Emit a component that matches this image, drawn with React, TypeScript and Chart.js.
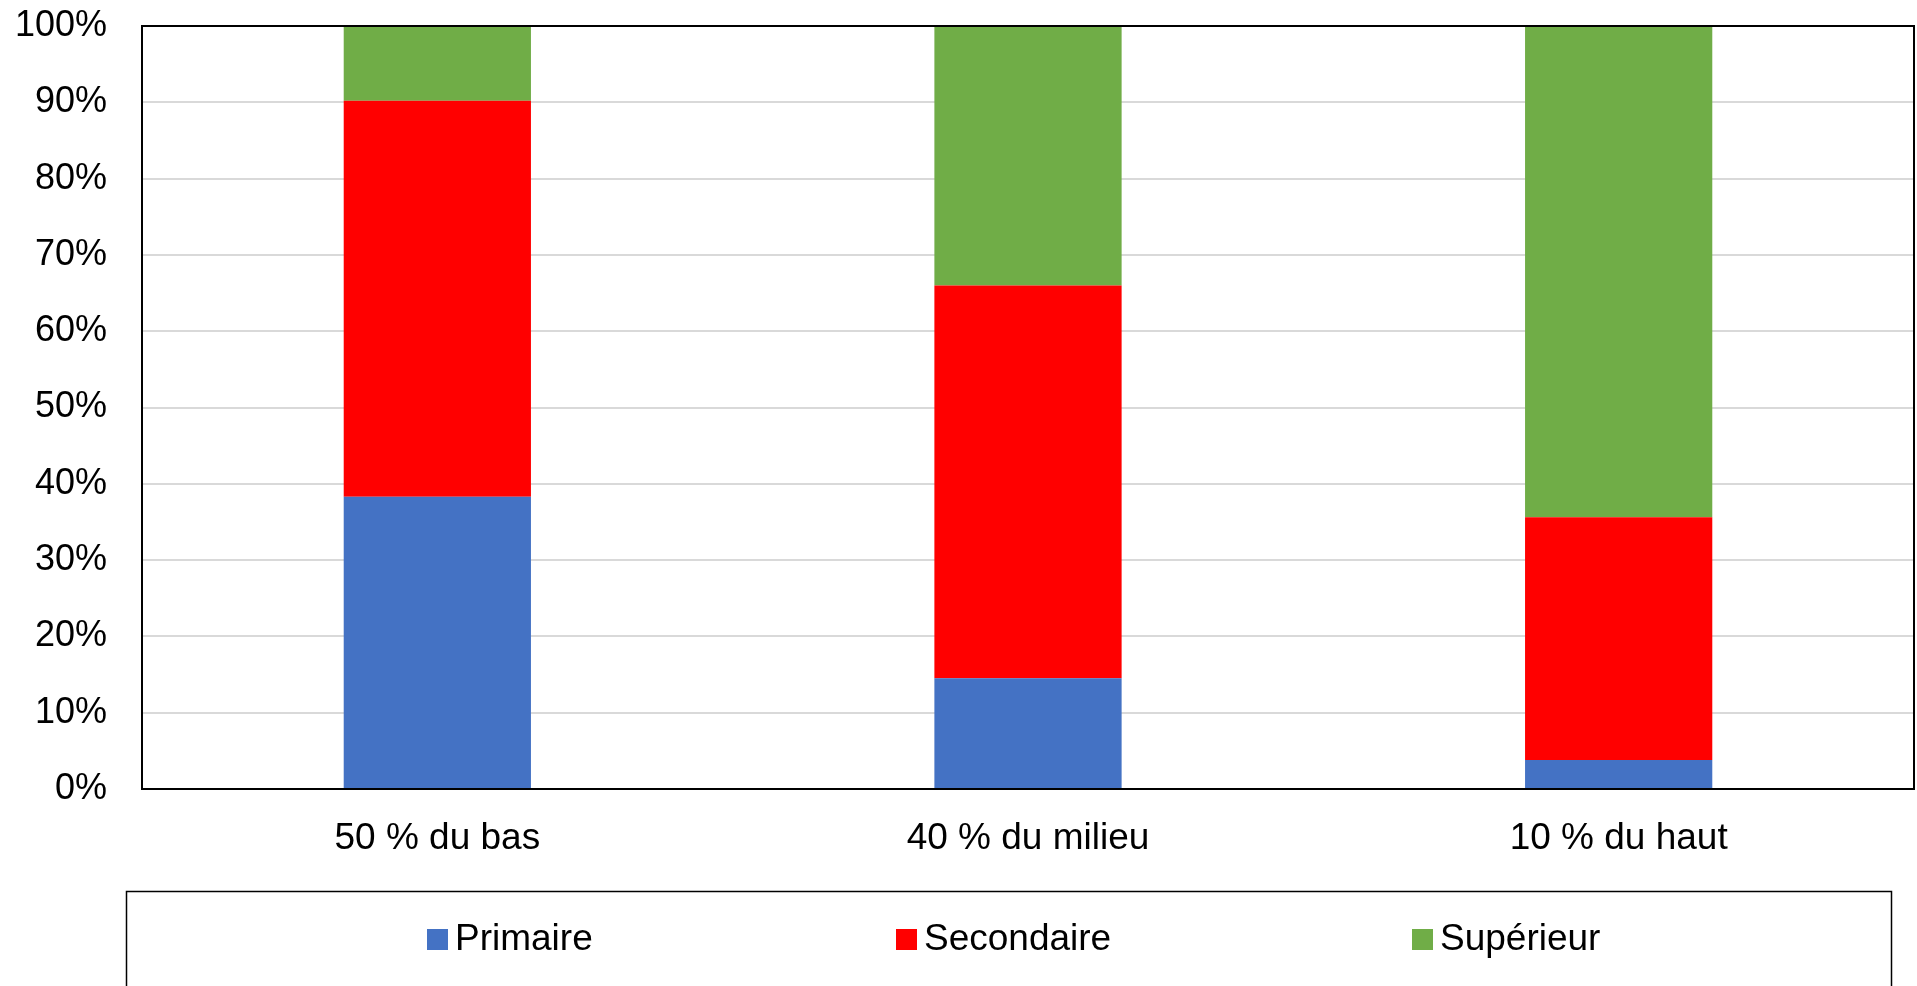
import React, { useEffect, useRef } from "react";
import { Chart, registerables } from "chart.js";

Chart.register(...registerables);

const categories = ["50 % du bas", "40 % du milieu", "10 % du haut"];
const primaire = [38.3, 14.5, 3.8];
const secondaire = [51.9, 51.5, 31.8];
const superieur = [9.8, 34.0, 64.4];
const seriesNames = ["Primaire", "Secondaire", "Supérieur"];
const seriesColors = ["#4472C4", "#FF0000", "#70AD47"];

const FONT = "'Liberation Sans', Arial, sans-serif";

const frameAndLegend = {
  id: "frameAndLegend",
  afterDraw(chart: any) {
    const { ctx, chartArea } = chart;
    ctx.save();
    ctx.strokeStyle = "#000";
    ctx.lineWidth = 2;
    ctx.strokeRect(chartArea.left, chartArea.top, chartArea.right - chartArea.left, chartArea.bottom - chartArea.top);
    ctx.lineWidth = 1.5;
    ctx.strokeRect(126.5, 891.5, 1765, 120);
    const itemX = [427, 896, 1412];
    const cy = 939;
    ctx.font = `37px ${FONT}`;
    ctx.textBaseline = "middle";
    ctx.textAlign = "left";
    chart.data.datasets.forEach((ds: any, i: number) => {
      ctx.fillStyle = ds.backgroundColor;
      ctx.fillRect(itemX[i], cy - 10, 21, 21);
      ctx.fillStyle = "#000";
      ctx.fillText(ds.label, itemX[i] + 28, cy + 1);
    });
    ctx.restore();
  },
};

export default function App() {
  const ref = useRef<HTMLCanvasElement>(null);
  useEffect(() => {
    document.body.style.margin = "0";
    const datasets = [primaire, secondaire, superieur].map((d, i) => ({
      label: seriesNames[i],
      data: d,
      backgroundColor: seriesColors[i],
      borderWidth: 0,
      barPercentage: 0.317,
      categoryPercentage: 1,
    }));
    const chart = new Chart(ref.current!, {
      type: "bar",
      data: { labels: categories, datasets },
      plugins: [frameAndLegend],
      options: {
        responsive: false,
        animation: false,
        maintainAspectRatio: false,
        layout: { padding: { left: 0, top: 26, right: 3, bottom: 107 } },
        plugins: { legend: { display: false }, tooltip: { enabled: false } },
        scales: {
          x: {
            stacked: true,
            grid: { display: false, drawTicks: false },
            border: { color: "#000", width: 2 },
            ticks: { color: "#000", font: { family: FONT, size: 37 }, padding: 28, maxRotation: 0 },
            afterFit: (s: any) => { s.height = 90; },
          },
          y: {
            stacked: true,
            min: 0,
            max: 100,
            grid: { color: "#d9d9d9", lineWidth: 2, drawTicks: false },
            border: { color: "#000", width: 2 },
            ticks: {
              stepSize: 10,
              color: "#000",
              font: { family: FONT, size: 36 },
              padding: 35,
              callback: (v: any) => `${v}%`,
            },
            afterFit: (s: any) => { s.width = 142; s.paddingTop = 0; s.paddingBottom = 0; },
          },
        },
      },
    });
    return () => chart.destroy();
  }, []);
  return (
    <div style={{ width: 1917, height: 986, background: "#fff" }}>
      <canvas ref={ref} width={1917} height={986} style={{ display: "block" }} />
    </div>
  );
}
